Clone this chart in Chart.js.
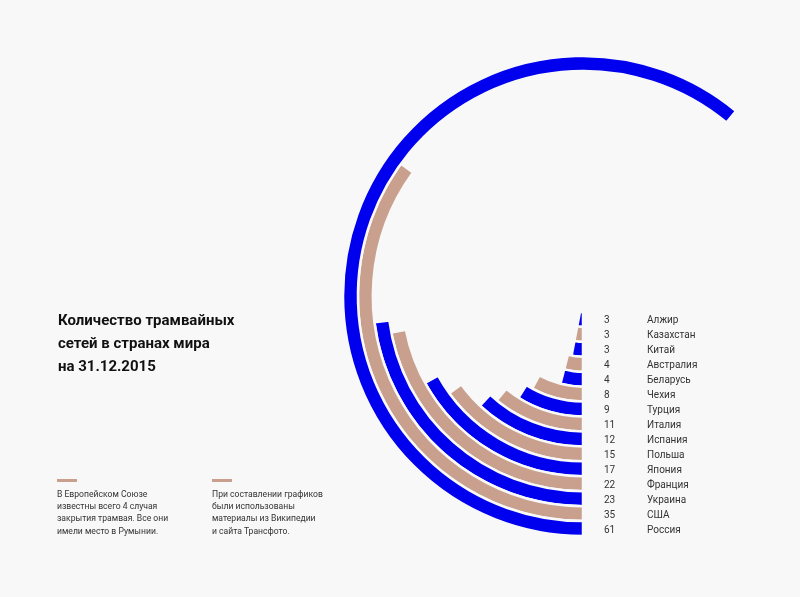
<!DOCTYPE html>
<html lang="ru">
<head>
<meta charset="utf-8">
<title>Трамвайные сети</title>
<script src="https://cdn.jsdelivr.net/npm/chart.js"></script>
<style>
    html, body {
        margin: 0;
        padding: 0;
        background: #f8f8f8;
        overflow: hidden;
        font-family: Roboto, "Noto Sans", sans-serif;
    }
    #tram-chart {
        position: absolute;
        left: 0;
        top: 0;
    }
    .title {
        position: absolute;
        left: 58px;
        top: 309px;
        font-size: 15px;
        font-weight: bold;
        line-height: 23px;
        color: #111;
    }
    .note {
        position: absolute;
        top: 479px;
        font-size: 8.6px;
        line-height: 12.4px;
        color: #333;
    }
    .note .dash {
        width: 20px;
        height: 2.5px;
        background: #c9a08e;
        margin-bottom: 6px;
    }
</style>
</head>
<body>
<canvas id="tram-chart" width="800" height="597"></canvas>

<div class="title">Количество трамвайных<br>сетей в странах мира<br>на 31.12.2015</div>

<div class="note" style="left:57px">
    <div class="dash"></div>
    В Европейском Союзе<br>известны всего 4 случая<br>закрытия трамвая. Все они<br>имели место в Румынии.
</div>
<div class="note" style="left:212px">
    <div class="dash"></div>
    При составлении графиков<br>были использованы<br>материалы из Википедии<br>и сайта Трансфото.
</div>

<script>
// данные, сверху вниз как в подписях
const countries = ["Алжир", "Казахстан", "Китай", "Австралия", "Беларусь", "Чехия", "Турция",
    "Италия", "Испания", "Польша", "Япония", "Франция", "Украина", "США", "Россия"];
const networks = [3, 3, 3, 4, 4, 8, 9, 11, 12, 15, 17, 22, 23, 35, 61];
const fullCircle = 100; // полный круг = 100 сетей

const blue = "#0000ee";
const beige = "#c9a08e";
const bg = "#f8f8f8";

// первое кольцо в chart.js - внешнее, поэтому идем с конца (Россия)
const datasets = [];
for (let i = countries.length - 1; i >= 0; i--) {
    const k = countries.length - 1 - i;
    datasets.push({
        label: countries[i],
        data: [networks[i], fullCircle - networks[i]],
        backgroundColor: [k % 2 == 0 ? blue : beige, "rgba(0,0,0,0)"],
        borderColor: bg,
        borderWidth: [2.5, 0],
    });
}

// подписи справа: число и страна на высоте своего кольца
const ringLabels = {
    id: "ringLabels",
    afterDatasetsDraw(chart) {
        const ctx = chart.ctx;
        ctx.save();
        ctx.font = "10px Roboto, 'Noto Sans', sans-serif";
        ctx.fillStyle = "#333";
        ctx.textAlign = "left";
        ctx.textBaseline = "middle";
        chart.data.datasets.forEach(function(ds, i) {
            const arc = chart.getDatasetMeta(i).data[0];
            const y = arc.y + (arc.innerRadius + arc.outerRadius) / 2 + 1.5;
            ctx.fillText(String(ds.data[0]), arc.x + 21, y);
            ctx.fillText(ds.label, arc.x + 64, y);
        });
        ctx.restore();
    },
};

new Chart(document.getElementById("tram-chart"), {
    type: "doughnut",
    data: {
        labels: ["сети", ""],
        datasets: datasets,
    },
    options: {
        responsive: false,
        animation: false,
        events: [],
        rotation: 180,
        circumference: 360,
        radius: 240,
        cutout: "6.67%",
        layout: {
            padding: { left: 366, right: 0, top: 0, bottom: 5 },
        },
        plugins: {
            legend: { display: false },
            tooltip: { enabled: false },
        },
    },
    plugins: [ringLabels],
});
</script>
</body>
</html>
